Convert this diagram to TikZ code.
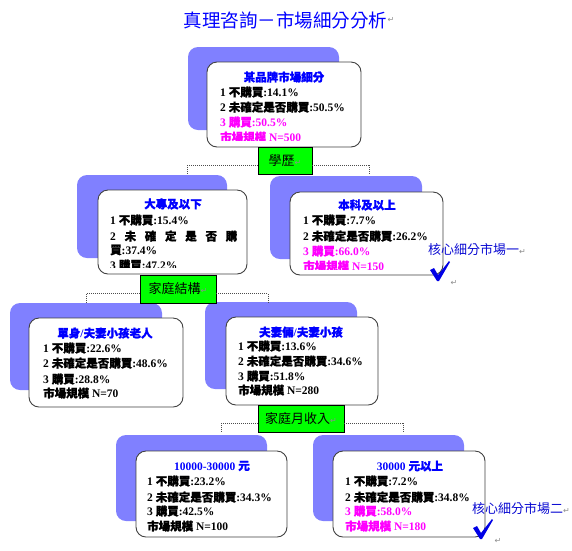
\documentclass[tikz,border=0pt]{standalone}
\usepackage{fontspec}
\setmainfont{Liberation Serif}
\newfontfamily\zh{Noto Sans CJK TC}
\newfontfamily\zhb[FakeBold=1.2]{Noto Sans CJK TC}
\newfontfamily\dv{DejaVu Sans}
\usetikzlibrary{fit}
\definecolor{pur}{RGB}{128,128,255}
\definecolor{gfill}{RGB}{0,255,0}
\definecolor{tblue}{RGB}{0,0,255}
\definecolor{mag}{RGB}{255,0,255}
\definecolor{cblue}{RGB}{10,10,210}
\definecolor{chkc}{RGB}{0,0,230}
\newcommand\retmark{{\dv\color{black!45}\fontsize{8}{8}\selectfont ↵}}
\newcommand\chkmark[1]{\fill[chkc,shift={#1}] (0,0) -- (4,-2) -- (8,5) -- (19,-9) -- (20,-8) -- (9,11) -- (7,11) -- cycle;}
\tikzset{
 pblock/.style={fill=pur, rounded corners=10pt, inner sep=0pt},
 wbox/.style={draw=black!75, fill=white, rounded corners=10pt, inner sep=0pt, line width=0.9pt},
 gbox/.style={draw=black, fill=gfill, line width=0.8pt, inner sep=0pt},
 gtext/.style={inner sep=0pt, text=black, font=\zh\fontsize{13}{13}\selectfont},
 conn/.style={draw=black!70, line width=0.7pt, dash pattern=on 1pt off 1pt},
 ln/.style={anchor=west, inner sep=0pt, font=\fontsize{11.5}{11.5}\selectfont\bfseries},
 hd/.style={anchor=center, inner sep=0pt, text=tblue, font=\fontsize{11.5}{11.5}\selectfont\bfseries},
 core/.style={anchor=west, inner sep=0pt, text=cblue, font=\zh\fontsize{13}{13}\selectfont},
 ret/.style={inner sep=0pt, text=black!45, font=\dv\fontsize{8}{8}\selectfont},
}
\begin{document}
\begin{tikzpicture}[x=1pt,y=-1pt]
\useasboundingbox (0,0) rectangle (572,550);
% title
\node[inner sep=0pt, text=tblue, font=\zh\fontsize{18.5}{18.5}\selectfont] (title) at (285.5,20) {真理咨詢－市場細分分析};
\node[ret, anchor=west] (titler) at (title.east) {↵};

% purple blocks
\node[pblock, fit={(188,47)(339,130)}] (p0) {};
\node[pblock, fit={(77,175)(227,258)}] (p1) {};
\node[pblock, fit={(270,176)(422,259)}] (p2) {};
\node[pblock, fit={(10,303)(162,390)}] (p3) {};
\node[pblock, fit={(205,302)(357,389)}] (p4) {};
\node[pblock, fit={(116,435)(267,521)}] (p5) {};
\node[pblock, fit={(313,435)(464,521)}] (p6) {};

% connectors
\coordinate (d1l) at (187,174);
\coordinate (d1r) at (369,174);
\coordinate (d2l) at (86,303);
\coordinate (d2r) at (268,303);
\coordinate (d3l) at (221,432);
\coordinate (d3r) at (403,432);

% white boxes
\node[wbox, fit={(207,62)(361,147)}] (b0) {};
\node[wbox, fit={(98,190)(247,274)}] (b1) {};
\node[wbox, fit={(290,192)(443,275)}] (b2) {};
\node[wbox, fit={(29,318)(183,407)}] (b3) {};
\node[wbox, fit={(226,317)(378,405)}] (b4) {};
\node[wbox, fit={(136,451)(287,537)}] (b5) {};
\node[wbox, fit={(333,451)(485,537)}] (b6) {};

% green boxes
\node[gbox, fit={(258,147)(312,174)}] (g1) {};
\node[gtext] (g1t) at (g1.center) {學歷\retmark};
\node[gbox, fit={(140,275)(216,303)}] (g2) {};
\node[gtext] (g2t) at (g2.center) {家庭結構\retmark};
\node[gbox, fit={(258,405)(344,432)}] (g3) {};
\node[gtext] (g3t) at (g3.center) {家庭月收入\retmark};

\draw[conn] ([yshift=9pt]g1.south west) -| (d1l);
\draw[conn] ([yshift=9pt]g1.south east) -| (d1r);
\draw[conn] ([yshift=10pt]g2.south west) -| (d2l);
\draw[conn] ([yshift=10pt]g2.south east) -| (d2r);
\draw[conn] ([yshift=9pt]g3.south west) -| (d3l);
\draw[conn] ([yshift=9pt]g3.south east) -| (d3r);

% box 0
\begin{scope}
\clip (207,62) rectangle (361,140);
\node[hd] (t0h) at (284,77) {{\zhb 某品牌市場細分}};
\node[ln] (t01) at (220,92) {1 {\zhb 不購買}:14.1\%};
\node[ln] (t02) at (220,107) {2 {\zhb 未確定是否購買}:50.5\%};
\node[ln, text=mag] (t03) at (220,122) {3 {\zhb 購買}:50.5\%};
\node[ln, text=mag] (t04) at (220,137) {{\zhb 市場規模} N=500};
\end{scope}

% box 1
\begin{scope}
\clip (98,190) rectangle (247,267);
\node[hd] (t1h) at (173,204) {{\zhb 大專及以下}};
\node[ln] (t11) at (110,220) {1 {\zhb 不購買}:15.4\%};
\node[ln] (t12) at (110,236) {\hbox to 127pt{2\hfill{\zhb 未}\hfill{\zhb 確}\hfill{\zhb 定}\hfill{\zhb 是}\hfill{\zhb 否}\hfill{\zhb 購}}};
\node[ln] (t13) at (110,250) {{\zhb 買}:37.4\%};
\node[ln] (t14) at (110,265) {3 {\zhb 購買}:47.2\%};
\end{scope}

% box 2
\begin{scope}
\clip (290,192) rectangle (443,269);
\node[hd] (t2h) at (367,205) {{\zhb 本科及以上}};
\node[ln] (t21) at (303,220) {1 {\zhb 不購買}:7.7\%};
\node[ln] (t22) at (303,236) {2 {\zhb 未確定是否購買}:26.2\%};
\node[ln, text=mag] (t23) at (303,251) {3 {\zhb 購買}:66.0\%};
\node[ln, text=mag] (t24) at (303,266) {{\zhb 市場規模} N=150};
\end{scope}
\node[core] (core1) at (428,250) {核心細分市場一\retmark};
\chkmark{(430,270)}
\node[ret] (r1) at (454,283) {↵};

% box 3
\node[hd] (t3h) at (105,333) {{\zhb 單身}/{\zhb 夫妻小孩老人}};
\node[ln] (t31) at (43,348) {1 {\zhb 不購買}:22.6\%};
\node[ln] (t32) at (43,363) {2 {\zhb 未確定是否購買}:48.6\%};
\node[ln] (t33) at (43,379) {3 {\zhb 購買}:28.8\%};
\node[ln] (t34) at (43,393) {{\zhb 市場規模} N=70};

% box 4
\node[hd] (t4h) at (301,332) {{\zhb 夫妻倆}/{\zhb 夫妻小孩}};
\node[ln] (t41) at (238,346) {1 {\zhb 不購買}:13.6\%};
\node[ln] (t42) at (238,361) {2 {\zhb 未確定是否購買}:34.6\%};
\node[ln] (t43) at (238,376) {3 {\zhb 購買}:51.8\%};
\node[ln] (t44) at (238,390) {{\zhb 市場規模} N=280};

% box 5
\node[hd] (t5h) at (212,466) {10000-30000 {\zhb 元}};
\node[ln] (t51) at (147,481) {1 {\zhb 不購買}:23.2\%};
\node[ln] (t52) at (147,497) {2 {\zhb 未確定是否購買}:34.3\%};
\node[ln] (t53) at (147,511) {3 {\zhb 購買}:42.5\%};
\node[ln] (t54) at (147,526) {{\zhb 市場規模} N=100};

% box 6
\node[hd] (t6h) at (410,466) {30000 {\zhb 元以上}};
\node[ln] (t61) at (345,481) {1 {\zhb 不購買}:7.2\%};
\node[ln] (t62) at (345,497) {2 {\zhb 未確定是否購買}:34.8\%};
\node[ln, text=mag] (t63) at (345,511) {3 {\zhb 購買}:58.0\%};
\node[ln, text=mag] (t64) at (345,526) {{\zhb 市場規模} N=180};
\node[core] (core2) at (472,509) {核心細分市場二\retmark};
\chkmark{(473,528)}
\node[ret] (r2) at (498,541) {↵};
\end{tikzpicture}
\end{document}
